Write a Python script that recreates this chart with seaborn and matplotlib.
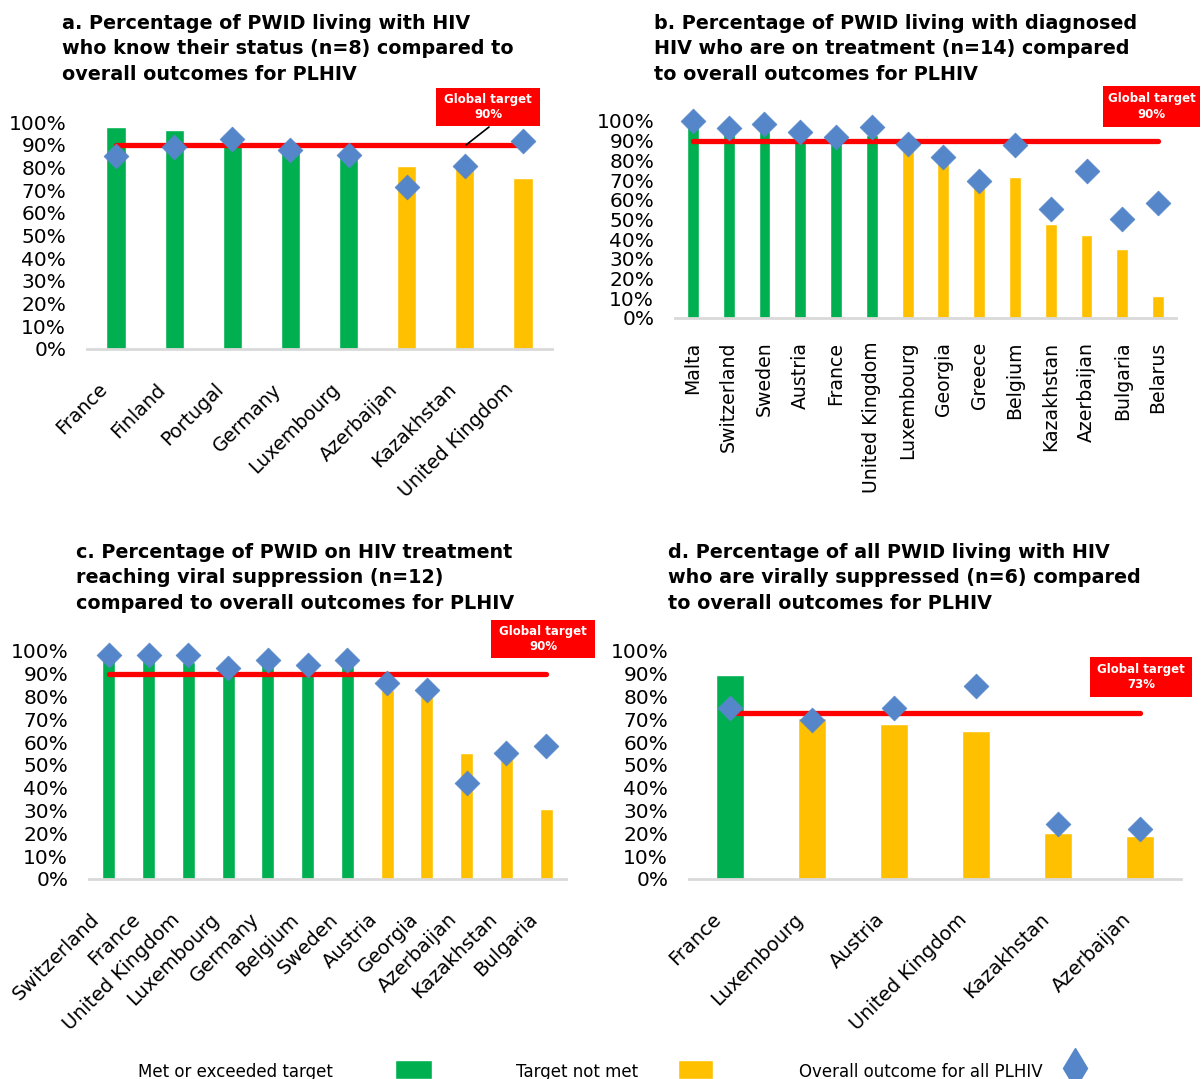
import pandas as pd
import seaborn as sns
import matplotlib.pyplot as plt
from matplotlib.patches import Rectangle
from matplotlib.lines import Line2D
from matplotlib.transforms import ScaledTranslation

GREEN = "#00B050"
YELLOW = "#FFC000"
BLUE = "#5586C9"
RED = "#FF0000"
W, H = 1202, 1079

# a. know their status
a_countries = ["France", "Finland", "Portugal", "Germany", "Luxembourg",
               "Azerbaijan", "Kazakhstan", "United Kingdom"]
a_pwid = [0.979, 0.966, 0.944, 0.89, 0.855, 0.807, 0.80, 0.754]
a_plhiv = [0.851, 0.888, 0.925, 0.878, 0.855, 0.714, 0.804, 0.916]
a_met = [1, 1, 1, 1, 1, 0, 0, 0]

# b. on treatment
b_countries = ["Malta", "Switzerland", "Sweden", "Austria", "France",
               "United Kingdom", "Luxembourg", "Georgia", "Greece", "Belgium",
               "Kazakhstan", "Azerbaijan", "Bulgaria", "Belarus"]
b_pwid = [0.99, 0.945, 0.949, 0.928, 0.90, 0.93, 0.885, 0.80, 0.688, 0.715,
          0.479, 0.422, 0.35, 0.113]
b_plhiv = [1.0, 0.967, 0.983, 0.945, 0.918, 0.969, 0.885, 0.815, 0.695,
           0.878, 0.554, 0.748, 0.503, 0.585]
b_met = [1, 1, 1, 1, 1, 1, 0, 0, 0, 0, 0, 0, 0, 0]

# c. viral suppression among treated
c_countries = ["Switzerland", "France", "United Kingdom", "Luxembourg",
               "Germany", "Belgium", "Sweden", "Austria", "Georgia",
               "Azerbaijan", "Kazakhstan", "Bulgaria"]
c_pwid = [0.966, 0.966, 0.951, 0.914, 0.944, 0.92, 0.936, 0.828, 0.818,
          0.553, 0.537, 0.309]
c_plhiv = [0.981, 0.981, 0.981, 0.925, 0.959, 0.939, 0.959, 0.859, 0.828,
           0.422, 0.552, 0.584]
c_met = [1, 1, 1, 1, 1, 1, 1, 0, 0, 0, 0, 0]

# d. virally suppressed among all PWID living with HIV
d_countries = ["France", "Luxembourg", "Austria", "United Kingdom",
               "Kazakhstan", "Azerbaijan"]
d_pwid = [0.895, 0.706, 0.678, 0.647, 0.202, 0.187]
d_plhiv = [0.748, 0.696, 0.748, 0.848, 0.243, 0.22]
d_met = [1, 0, 0, 0, 0, 0]

titles = [
    "a. Percentage of PWID living with HIV\nwho know their status (n=8) compared to\noverall outcomes for PLHIV",
    "b. Percentage of PWID living with diagnosed\nHIV who are on treatment (n=14) compared\nto overall outcomes for PLHIV",
    "c. Percentage of PWID on HIV treatment\nreaching viral suppression (n=12)\ncompared to overall outcomes for PLHIV",
    "d. Percentage of all PWID living with HIV\nwho are virally suppressed (n=6) compared\nto overall outcomes for PLHIV",
]
targets = [0.90, 0.90, 0.90, 0.73]

sns.set_theme(style="white")
plt.rcParams['font.family'] = ['DejaVu Sans']
plt.rcParams['text.color'] = 'black'
plt.rcParams['xtick.color'] = 'black'
plt.rcParams['ytick.color'] = 'black'

fig = plt.figure(figsize=(W / 100, H / 100), dpi=100)


def px_rect(x0, y0, x1, y1):
    return [x0 / W, 1 - y1 / H, (x1 - x0) / W, (y1 - y0) / H]


def panel(rect, countries, pwid, plhiv, met, target, rot, fs_x):
    ax = fig.add_axes(px_rect(*rect))
    df = pd.DataFrame({"country": countries, "pwid": pwid, "plhiv": plhiv,
                       "status": ["met" if m else "not" for m in met]})
    sns.barplot(data=df, x="country", y="pwid", hue="status",
                palette={"met": GREEN, "not": YELLOW}, width=0.33,
                saturation=1, dodge=False, legend=False, ax=ax, zorder=1)
    ax.plot(range(len(countries)), [target] * len(countries), color=RED,
            lw=3.8, solid_capstyle="round", zorder=3)
    sns.scatterplot(data=df, x="country", y="plhiv", marker="D", s=160,
                    color=BLUE, edgecolor=BLUE, linewidth=0.5, ax=ax,
                    zorder=5, clip_on=False)
    ax.set_xlim(-0.5, len(countries) - 0.5)
    ax.set_ylim(0, 1)
    ax.set_yticks([i / 10 for i in range(11)])
    ax.set_yticklabels([f"{i * 10}%" for i in range(11)], fontsize=14.5)
    ax.set_xlabel("")
    ax.set_ylabel("")
    for s in ["top", "right", "left"]:
        ax.spines[s].set_visible(False)
    ax.spines["bottom"].set_color("#D9D9D9")
    ax.spines["bottom"].set_linewidth(2)
    ax.tick_params(axis="y", length=0, pad=15)
    ax.set_xticks(range(len(countries)))
    if rot == 90:
        ax.tick_params(axis="x", length=0, pad=17)
        ax.set_xticklabels(countries, rotation=90, ha="center", va="top",
                           fontsize=fs_x)
    else:
        ax.tick_params(axis="x", length=0, pad=27)
        ax.set_xticklabels(countries, rotation=45, ha="right", va="center",
                           rotation_mode="anchor", fontsize=fs_x)
        shift = ScaledTranslation(-12 / 100, 0, fig.dpi_scale_trans)
        for lab in ax.get_xticklabels():
            lab.set_transform(lab.get_transform() + shift)
    return ax


panel((87, 122, 552, 349), a_countries, a_pwid, a_plhiv, a_met, targets[0], 45, 13.8)
panel((675, 121, 1176, 318), b_countries, b_pwid, b_plhiv, b_met, targets[1], 90, 13.6)
panel((89, 651, 566, 879), c_countries, c_pwid, c_plhiv, c_met, targets[2], 45, 14.0)
panel((689, 651, 1181, 879), d_countries, d_pwid, d_plhiv, d_met, targets[3], 45, 14.0)

# titles
for (x, y), t in zip([(62, 14), (654, 14), (76, 543), (668, 543)], titles):
    fig.text(x / W, 1 - y / H, t, fontsize=13.8, fontweight="bold",
             ha="left", va="top", linespacing=1.42, color="black")

# global target boxes
for (x0, y0, x1, y1), t in zip([(436, 88, 540, 126), (1103, 86, 1200, 127),
                                (491, 620, 595, 658), (1090, 657, 1192, 697)],
                               targets):
    fig.patches.append(Rectangle((x0 / W, 1 - y1 / H), (x1 - x0) / W,
                                 (y1 - y0) / H, transform=fig.transFigure,
                                 facecolor=RED, edgecolor="none"))
    fig.text((x0 + x1) / 2 / W, 1 - (y0 + y1) / 2 / H,
             f"Global target\n{int(round(t * 100))}%", color="white",
             fontsize=8.5, fontweight="bold", ha="center", va="center",
             linespacing=1.25)

# connector in panel a
fig.add_artist(Line2D([466 / W, 489 / W], [1 - 145 / H, 1 - 127 / H],
                      color="black", lw=1.2, transform=fig.transFigure))

# legend row
ly = 1 - 1072 / H
fig.text(138 / W, ly, "Met or exceeded target", fontsize=12, va="center")
fig.patches.append(Rectangle((395 / W, 1 - 1079 / H), 37 / W, 19 / H,
                             transform=fig.transFigure, facecolor=GREEN))
fig.text(516 / W, ly, "Target not met", fontsize=12, va="center")
fig.patches.append(Rectangle((678 / W, 1 - 1079 / H), 35 / W, 19 / H,
                             transform=fig.transFigure, facecolor=YELLOW))
fig.text(799 / W, ly, "Overall outcome for all PLHIV", fontsize=12, va="center")
fig.add_artist(Line2D([1075 / W], [1 - 1068 / H], marker="d", markersize=20,
                      color=BLUE, transform=fig.transFigure))

fig.savefig("out.png", dpi=100)
